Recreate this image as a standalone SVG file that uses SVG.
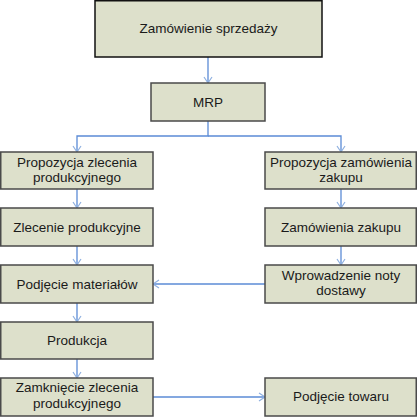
<svg xmlns="http://www.w3.org/2000/svg" width="417" height="417" viewBox="0 0 417 417">
<defs>
<style>
.box{fill:#dde0cb;stroke:#4a4a4a;stroke-width:1.5}
.t{font-family:"Liberation Sans",Arial,sans-serif;font-size:13.5px;fill:#1a1a1a;text-anchor:middle}
.c{fill:none;stroke:#5b8bd6;stroke-width:1.3}
</style>
<marker id="a" markerWidth="10" markerHeight="10" refX="8" refY="5" orient="auto" markerUnits="userSpaceOnUse">
<path d="M2,1 L8,5 L2,9" fill="none" stroke="#8fb0e0" stroke-width="1.2"/>
</marker>
</defs>
<rect width="417" height="417" fill="#ffffff"/>
<g id="connectors">
<path class="c" d="M208,57 V83" marker-end="url(#a)"/>
<path class="c" d="M208,121 V136 H77 V152" marker-end="url(#a)"/>
<path class="c" d="M208,136 H341 V152" marker-end="url(#a)"/>
<path class="c" d="M77,189 V208" marker-end="url(#a)"/>
<path class="c" d="M341,189 V208" marker-end="url(#a)"/>
<path class="c" d="M77,246 V265" marker-end="url(#a)"/>
<path class="c" d="M341,246 V265" marker-end="url(#a)"/>
<path class="c" d="M265,284 H153" marker-end="url(#a)"/>
<path class="c" d="M77,303 V322" marker-end="url(#a)"/>
<path class="c" d="M77,359 V378" marker-end="url(#a)"/>
<path class="c" d="M153,397 H265" marker-end="url(#a)"/>
</g>
<g id="n1"><rect class="box" x="95" y="0.75" width="227" height="56.25" style="stroke:#111"/><text class="t" x="208.5" y="33">Zamówienie sprzedaży</text></g>
<g id="n2"><rect class="box" x="151" y="83" width="114" height="38"/><text class="t" x="208" y="107">MRP</text></g>
<g id="n3"><rect class="box" x="0.75" y="152" width="152.25" height="37"/><text class="t" x="77" y="167">Propozycja zlecenia</text><text class="t" x="77" y="182">produkcyjnego</text></g>
<g id="n4"><rect class="box" x="265" y="152" width="151.25" height="37"/><text class="t" x="341" y="167">Propozycja zamówienia</text><text class="t" x="341" y="182">zakupu</text></g>
<g id="n5"><rect class="box" x="0.75" y="208" width="152.25" height="38"/><text class="t" x="77" y="232">Zlecenie produkcyjne</text></g>
<g id="n6"><rect class="box" x="265" y="208" width="151.25" height="38"/><text class="t" x="341" y="232">Zamówienia zakupu</text></g>
<g id="n7"><rect class="box" x="0.75" y="265" width="152.25" height="38"/><text class="t" x="77" y="289">Podjęcie materiałów</text></g>
<g id="n8"><rect class="box" x="265" y="265" width="151.25" height="38"/><text class="t" x="341" y="280">Wprowadzenie noty</text><text class="t" x="341" y="295">dostawy</text></g>
<g id="n9"><rect class="box" x="0.75" y="322" width="152.25" height="37"/><text class="t" x="77" y="345">Produkcja</text></g>
<g id="n10"><rect class="box" x="0.75" y="378" width="152.25" height="38"/><text class="t" x="77" y="392">Zamknięcie zlecenia</text><text class="t" x="77" y="408">produkcyjnego</text></g>
<g id="n11"><rect class="box" x="265" y="378" width="151.25" height="38"/><text class="t" x="341" y="401">Podjęcie towaru</text></g>
</svg>
